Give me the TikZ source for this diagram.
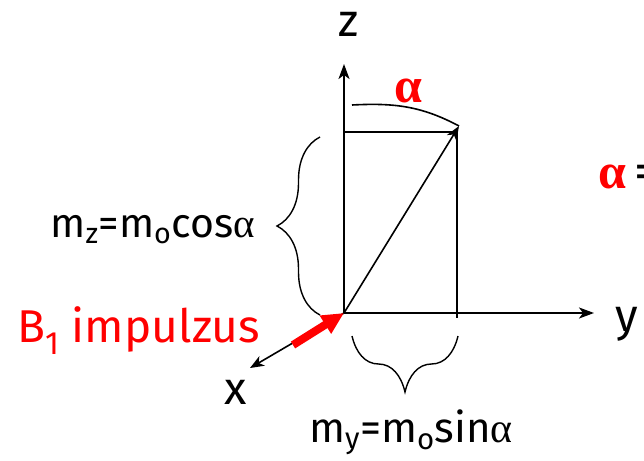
\documentclass[tikz,border=0pt]{standalone}
\usepackage{fontspec}
\setmainfont{Fira Sans}
\newfontfamily\alphafont{Liberation Serif}
\usepackage{xcolor}
\usetikzlibrary{arrows.meta,decorations.pathreplacing}

\newcommand{\alf}{{\alphafont α}}
\newcommand{\balf}{{\alphafont\bfseries α}}

\begin{document}
\begin{tikzpicture}[
  x=1pt, y=-1pt,
  axis/.style={-{Stealth[length=15pt,width=11pt,inset=4pt]}, line width=1.8pt},
  thinarr/.style={-{Stealth[length=14pt,width=11pt,inset=4pt]}, line width=1.6pt},
  edge/.style={line width=1.6pt},
  impulse/.style={-{Triangle[length=22pt,width=20pt]}, line width=8pt, red},
  brc/.style={decorate, decoration={brace, amplitude=#1}, line width=1.4pt},
  lbl/.style={font=\fontsize{41}{43}\selectfont, anchor=base, inner sep=0pt},
  axlbl/.style={font=\fontsize{46}{48}\selectfont, anchor=base, inner sep=0pt},
  redlbl/.style={lbl, text=red}
]
\useasboundingbox (0,0) rectangle (644,460);
\clip (0,0) rectangle (644,460);

% axes
\coordinate (o) at (344,313);
\coordinate (ztip) at (344,64);
\coordinate (ytip) at (594,313);
\coordinate (xtip) at (250,368);
\coordinate (imp) at (293,345);
\draw[axis] (o) -- (ztip);
\draw[axis] (o) -- (ytip);
\draw[thinarr] (o) -- (xtip);
\draw[impulse] (imp) -- (o);

% moment and its components
\coordinate (m) at (459,126);
\coordinate (mz) at (344,132);
\coordinate (mc) at (457,132);
\coordinate (my) at (457,318);
\draw[edge] (mz) -- (mc) -- (my);
\draw[thinarr] (o) -- (m);
\coordinate (arcst) at (352,105);
\draw[edge] (arcst) to[out=3,in=152] (m);

% braces
\coordinate (bz1) at (320,315);
\coordinate (bz2) at (320,137);
\coordinate (by1) at (352,336);
\coordinate (by2) at (458,336);
\draw[brc=43pt] (bz1) -- (bz2);
\draw[brc=56pt, decoration={mirror}] (by1) -- (by2);

% labels
\node[axlbl] (zlbl) at (349,37) {z};
\node[axlbl] (ylbl) at (627,331) {y};
\node[axlbl] (xlbl) at (236,404) {x};
\node[redlbl, font=\fontsize{50}{52}\selectfont] (alphalbl) at (408,102) {\balf};
\node[lbl, anchor=base east] (mzlbl) at (255,237) {m\textsubscript{z}=m\textsubscript{o}cos\alf};
\node[lbl, font=\fontsize{42}{44}\selectfont] (mylbl) at (411,442) {m\textsubscript{y}=m\textsubscript{o}sin\alf};
\node[redlbl, font=\fontsize{46}{48}\selectfont, anchor=base west] (implbl) at (17,342) {B\textsubscript{1} impulzus};
\node[lbl, font=\fontsize{50}{52}\selectfont, anchor=base west] (alphar) at (598,188) {\textcolor{red}{\balf}\,=};
\end{tikzpicture}
\end{document}
